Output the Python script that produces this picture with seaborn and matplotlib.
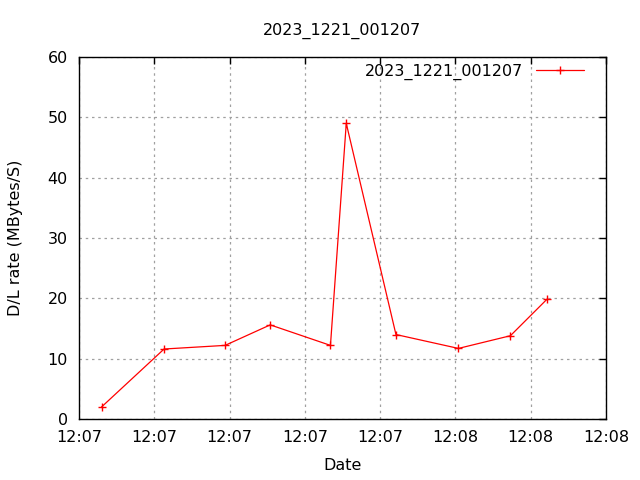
import matplotlib
matplotlib.use('Agg')
import matplotlib.pyplot as plt
import matplotlib.dates as mdates
import seaborn as sns
import pandas as pd

# data (seconds after 12:07:00, rate in MBytes/s)
seconds = [13.0, 21.3, 29.4, 35.4, 43.4, 45.5, 52.1, 60.4, 67.3, 72.2]
rates = [2.0, 11.6, 12.2, 15.6, 12.2, 49.0, 14.0, 11.7, 13.8, 19.9]
run_name = '2023_1221_001207'

base = pd.Timestamp('2023-12-21 12:07:00')
times = [base + pd.Timedelta(seconds=s) for s in seconds]
df = pd.DataFrame({'Date': times, 'rate': rates, 'run': run_name})

sns.set_style('white')
plt.rcParams['font.family'] = ['DejaVu Sans']
plt.rcParams['font.size'] = 11.5
plt.rcParams['text.color'] = 'black'
plt.rcParams['axes.labelcolor'] = 'black'

fig = plt.figure(figsize=(6.4, 4.8), dpi=100)
ax = fig.add_axes([79 / 640, 61 / 480, 527 / 640, 362 / 480])

sns.lineplot(data=df, x='Date', y='rate', hue='run', palette=['red'],
             marker='+', markersize=6, markeredgewidth=1, linewidth=0.9,
             markeredgecolor='red', ax=ax)

ax.set_xlim(base + pd.Timedelta(seconds=10), base + pd.Timedelta(seconds=80))
ax.set_ylim(0, 60)
ax.xaxis.set_major_locator(mdates.SecondLocator(bysecond=range(0, 60, 10)))
ax.xaxis.set_major_formatter(mdates.DateFormatter('%H:%M'))
ax.set_yticks(range(0, 61, 10))

ax.grid(True, color='#a0a0a0', linestyle=(0, (2, 3)), linewidth=0.9)
ax.tick_params(direction='in', length=5, width=1, top=True, right=True,
               labelsize=11.5, colors='black', pad=8)
for sp in ax.spines.values():
    sp.set_color('black')
    sp.set_linewidth(1)

ax.set_xlabel('Date', fontsize=11.5, labelpad=9)
ax.set_ylabel('D/L rate (MBytes/S)', fontsize=11.5, labelpad=18)
ax.set_title(run_name, fontsize=11.5, pad=16, color='black')

handles, labels = ax.get_legend_handles_labels()
ax.legend(handles, labels, loc='upper right', frameon=False, markerfirst=False,
          handlelength=3.0, fontsize=11.5, borderaxespad=0.0, handletextpad=0.8,
          bbox_to_anchor=(0.9705, 0.999))

fig.savefig('out.png', dpi=100)
